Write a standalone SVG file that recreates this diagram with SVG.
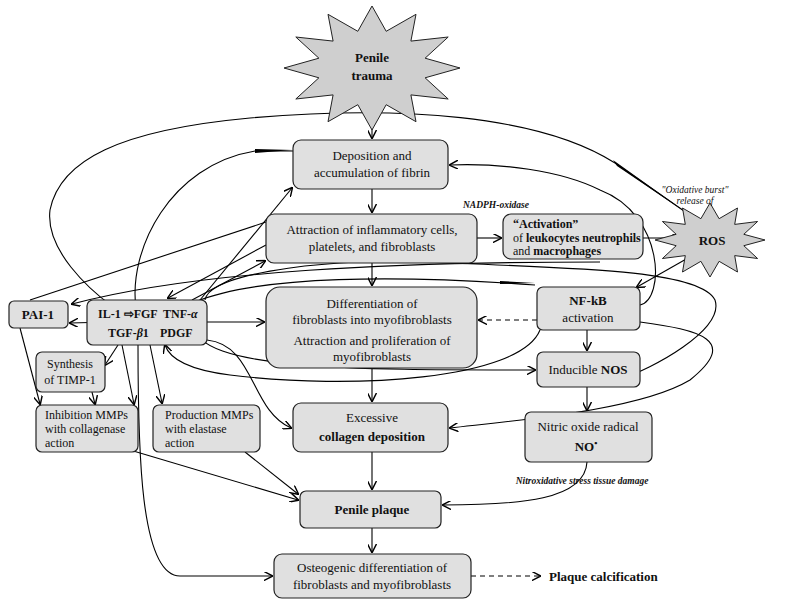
<svg xmlns="http://www.w3.org/2000/svg" width="786" height="604" viewBox="0 0 786 604" font-family="'Liberation Serif', serif">
<defs>
<marker id="a" viewBox="0 0 10 10" refX="9" refY="5" markerWidth="9" markerHeight="9" orient="auto-start-reverse" markerUnits="userSpaceOnUse"><path d="M0,0 L10,5 L0,10" fill="none" stroke="#000" stroke-width="1.6"/></marker>
</defs>
<style>
.b{fill:#e0e0e0;stroke:#222;stroke-width:1.2}
.s{fill:#cfcfcf;stroke:#222;stroke-width:1}
text{font-family:'Liberation Serif',serif;font-size:13px;fill:#111}
.c{text-anchor:middle}
.bd{font-weight:bold}
.sm{font-size:12px}
.l{fill:none;stroke:#000;stroke-width:1.1}
.m{marker-end:url(#a)}
.d{stroke-dasharray:5,4}
.i{font-style:italic;font-size:9.5px}
</style>
<rect width="786" height="604" fill="#fff"/>
<g id="connectors">
<path class="l m" d="M372,96 V138"/>
<path class="l m" d="M372,189 V212"/>
<path class="l m" d="M477,238 H501"/>
<path class="l m" d="M643,238 H680"/>
<path class="l m" d="M688,258 L637,287"/>
<path class="l m" d="M372,263 V285"/>
<path class="l m" d="M372,368 V401"/>
<path class="l m" d="M372,452 V489"/>
<path class="l m" d="M372,528 V552"/>
<path class="l m d" d="M537,320 H479"/>
<path class="l m" d="M587,330 V350"/>
<path class="l m" d="M587,387 V410"/>
<path class="l m d" d="M471,576 H540"/>
<path class="l m" d="M207,322 H264"/>
<path class="l m" d="M640,305 C665,300 665,215 600,190 C560,170 500,163 450,165"/>
<path class="l" d="M697,220 L615,163 C540,115 400,105 250,118 C120,130 60,160 50,210 C45,250 90,290 112,306"/>
<path fill="#000" d="M697,220 L613,160 L617,166 Z"/>
<path class="l" d="M136,308 C128,250 170,165 255,151 L293,151"/>
<path fill="#000" d="M293,150 L255,149 L255,153 Z"/>
<path class="l m" d="M200,300 L292,188"/>
<path class="l m" d="M192,300 L265,261"/>
<path class="l m" d="M266,245 L168,298"/>
<path class="l" d="M30,300 L266,222"/>
<path class="l m" d="M205,300 C210,270 350,258 420,262 C580,268 700,270 715,300 C725,330 650,370 622,378"/>
<path class="l m" d="M110,322 L70,323"/>
<path class="l m" d="M600,262 C400,262 200,270 72,304"/>
<path class="l" d="M195,302 C260,275 400,275 535,285"/>
<path fill="#000" d="M535,283 L500,281 L500,284 Z"/>
<path class="l m" d="M193,325 C198,370 350,370 535,370"/>
<path class="l m" d="M540,330 C520,380 350,390 230,375 C190,370 170,360 165,345"/>
<path class="l m" d="M640,322 C700,330 740,340 690,380 C640,410 520,420 450,428"/>
<path class="l m" d="M207,340 C255,345 250,410 291,428"/>
<path class="l m" d="M118,345 L105,365"/>
<path class="l m" d="M122,345 L134,404"/>
<path class="l m" d="M150,345 L162,403"/>
<path class="l m" d="M92,392 L95,404"/>
<path class="l m" d="M20,328 L40,404"/>
<path class="l m" d="M130,450 L298,500"/>
<path class="l m" d="M245,452 L298,494"/>
<path class="l m" d="M138,345 C138,450 140,576 180,576 L272,576"/>
<path class="l m" d="M587,462 C585,500 520,505 443,505"/>
</g>
<g id="trauma"><polygon class="s" points="460,68 425.1,77.8 448.2,99 410.9,94.9 416,121.7 386.2,104.7 372,130 357.8,104.7 328,121.7 333.1,94.9 295.8,99 318.9,77.8 284,68 318.9,58.2 295.8,37 333.1,41.1 328,14.3 357.8,31.3 372,6 386.2,31.3 416,14.3 410.9,41.1 448.2,37 425.1,58.2"/><text class="c bd" x="372" y="62">Penile</text><text class="c bd" x="372" y="80">trauma</text></g>
<g id="ros"><polygon class="s" points="765,240 743.8,245.7 757.6,258.5 734.7,255.6 737.5,272 719.1,261.3 710,277 700.9,261.3 682.5,272 685.3,255.6 662.4,258.5 676.2,245.7 655,240 676.2,234.3 662.4,221.5 685.3,224.4 682.5,208 700.9,218.7 710,203 719.1,218.7 737.5,208 734.7,224.4 757.6,221.5 743.8,234.3"/><text class="c bd" x="712" y="245">ROS</text>
<text class="c i" x="695" y="193">"Oxidative burst"</text><text class="c i" x="695" y="204">release of</text></g>
<g id="deposition"><rect class="b" x="293" y="140" width="155" height="49" rx="8"/><text class="c" x="372" y="160">Deposition and</text><text class="c" x="372" y="177">accumulation of fibrin</text></g>
<g id="attraction"><rect class="b" x="266" y="214" width="211" height="49" rx="8"/><text class="c" x="372" y="234">Attraction of inflammatory cells,</text><text class="c" x="372" y="251">platelets, and fibroblasts</text></g>
<text class="i bd" x="463" y="208">NADPH-oxidase</text>
<g id="activation"><rect class="b" x="503" y="214" width="140" height="45" rx="8"/><text class="bd sm" x="513" y="228">“Activation”</text><text class="sm" x="513" y="242">of <tspan class="bd">leukocytes neutrophils</tspan></text><text class="sm" x="513" y="255">and <tspan class="bd">macrophages</tspan></text></g>
<g id="nfkb"><rect class="b" x="537" y="287" width="103" height="43" rx="6"/><text class="c bd" x="588" y="305">NF-kB</text><text class="c" x="588" y="322">activation</text></g>
<g id="differentiation"><rect class="b" x="266" y="287" width="211" height="81" rx="14"/><text class="c" x="372" y="308">Differentiation of</text><text class="c" x="372" y="324">fibroblasts into myofibroblasts</text><text class="c" x="372" y="345">Attraction and proliferation of</text><text class="c" x="372" y="361">myofibroblasts</text></g>
<g id="pai1"><rect class="b" x="9" y="301" width="59" height="27" rx="5"/><text class="c bd" x="38" y="319">PAI-1</text></g>
<g id="cytokines"><rect class="b" x="87" y="300" width="120" height="45" rx="6"/><text class="bd sm" x="98" y="318">IL-1 ⇨FGF</text><text class="bd sm" x="163" y="318">TNF-<tspan font-style="italic">α</tspan></text><text class="bd sm" x="108" y="337">TGF-<tspan font-style="italic">β</tspan>1</text><text class="bd sm" x="160" y="337">PDGF</text></g>
<g id="timp"><rect class="b" x="36" y="352" width="69" height="40" rx="6"/><text class="c sm" x="70" y="368">Synthesis</text><text class="c sm" x="70" y="384">of TIMP-1</text></g>
<g id="inhibition"><rect class="b" x="36" y="405" width="102" height="47" rx="6"/><text class="sm" x="45" y="419">Inhibition MMPs</text><text class="sm" x="45" y="433">with collagenase</text><text class="sm" x="45" y="447">action</text></g>
<g id="production"><rect class="b" x="153" y="405" width="107" height="47" rx="6"/><text class="sm" x="165" y="419">Production MMPs</text><text class="sm" x="165" y="433">with elastase</text><text class="sm" x="165" y="447">action</text></g>
<g id="collagen"><rect class="b" x="293" y="403" width="155" height="49" rx="8"/><text class="c" x="372" y="422">Excessive</text><text class="c bd" x="372" y="441">collagen deposition</text></g>
<g id="inos"><rect class="b" x="537" y="352" width="103" height="35" rx="6"/><text class="c" x="588" y="374">Inducible <tspan class="bd">NOS</tspan></text></g>
<g id="no"><rect class="b" x="525" y="412" width="127" height="50" rx="6"/><text class="c" x="588" y="431">Nitric oxide radical</text><text class="c bd" x="586" y="451">NO<tspan font-size="9" dy="-5">•</tspan></text></g>
<text class="i bd" x="582" y="484" text-anchor="middle">Nitroxidative stress tissue damage</text>
<g id="plaque"><rect class="b" x="300" y="491" width="141" height="37" rx="6"/><text class="c bd" x="372" y="514">Penile plaque</text></g>
<g id="osteogenic"><rect class="b" x="274" y="554" width="197" height="44" rx="8"/><text class="c" x="372" y="572">Osteogenic differentiation of</text><text class="c" x="372" y="589">fibroblasts and myofibroblasts</text></g>
<g id="calcification"><text class="bd" x="549" y="581">Plaque calcification</text></g>
</svg>
